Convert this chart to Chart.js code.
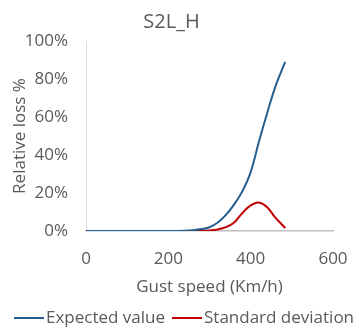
<!DOCTYPE html>
<html>
<head>
<meta charset="utf-8">
<script src="https://cdn.jsdelivr.net/npm/chart.js@4.4.0/dist/chart.umd.min.js"></script>
<style>
html,body{margin:0;padding:0;background:#fff;}
#wrap{width:355px;height:328px;}
</style>
</head>
<body>
<div id="wrap"><canvas id="c" width="355" height="328"></canvas></div>
<script>
const gustSpeed = [0, 100, 200, 240, 260, 280, 300, 320, 340, 360, 380, 400, 420, 440, 460, 480, 484];
const expectedValue = [0, 0, 0, 0.1, 0.4, 1.0, 2.0, 4.5, 8.5, 14, 21, 31, 47, 62, 76, 87, 89];
const standardDeviation = [0, 0, 0, 0, 0, 0.1, 0.3, 0.8, 2.0, 4.5, 9.5, 13.5, 15, 12.5, 7, 2.5, 1.5];
const xTicks = [0, 200, 400, 600];
const yTicks = [0, 20, 40, 60, 80, 100];
const seriesNames = ['Expected value', 'Standard deviation'];
const chartTitle = 'S2L_H';
const xTitle = 'Gust speed (Km/h)';
const yTitle = 'Relative loss %';

const FONT = "'Open Sans', sans-serif";
const TXT = '#595959';
const FS = 17;
const COLORS = ['#255E91', '#C00000'];
Chart.defaults.font.family = FONT;
Chart.defaults.color = TXT;

const toPts = (ys) => gustSpeed.map((x, i) => ({x, y: ys[i]}));

const customLegend = {
  id: 'customLegend',
  afterDraw(chart) {
    const ctx = chart.ctx;
    const y = 318;
    const items = [{x: 14}, {x: 172}];
    ctx.save();
    ctx.font = FS + "px " + FONT;
    ctx.textBaseline = 'middle';
    ctx.textAlign = 'left';
    chart.data.datasets.forEach((ds, i) => {
      const x0 = items[i].x;
      ctx.strokeStyle = ds.borderColor;
      ctx.lineWidth = 2;
      ctx.beginPath();
      ctx.moveTo(x0, y);
      ctx.lineTo(x0 + 30, y);
      ctx.stroke();
      ctx.fillStyle = TXT;
      ctx.fillText(ds.label, x0 + 32, y);
    });
    ctx.restore();
  }
};

new Chart(document.getElementById('c'), {
  type: 'line',
  data: {
    datasets: [
      {label: seriesNames[0], data: toPts(expectedValue), borderColor: COLORS[0], backgroundColor: COLORS[0], borderWidth: 2, pointRadius: 0, tension: 0.4},
      {label: seriesNames[1], data: toPts(standardDeviation), borderColor: COLORS[1], backgroundColor: COLORS[1], borderWidth: 2, pointRadius: 0, tension: 0.4}
    ]
  },
  plugins: [customLegend],
  options: {
    responsive: false,
    animation: false,
    layout: {padding: {left: 10, right: 22, top: 8, bottom: 27}},
    plugins: {
      title: {display: true, text: chartTitle, color: TXT, font: {size: 20, weight: 'normal', family: FONT}, padding: {top: 2, bottom: 7}},
      legend: {display: false},
      tooltip: {enabled: false}
    },
    scales: {
      x: {
        type: 'linear', min: 0, max: 600,
        afterBuildTicks: (s) => { s.ticks = xTicks.map(v => ({value: v})); },
        afterFit: (s) => { s.height = 70; s.paddingLeft = 0; s.paddingRight = 0; },
        grid: {display: false, drawTicks: false},
        border: {display: true, color: '#BFBFBF', width: 1.5},
        ticks: {color: TXT, font: {size: FS}, padding: 18, maxRotation: 0},
        title: {display: true, text: xTitle, color: TXT, font: {size: FS}, padding: {top: 7, bottom: 4}}
      },
      y: {
        min: 0, max: 100,
        afterBuildTicks: (s) => { s.ticks = yTicks.map(v => ({value: v})); },
        afterFit: (s) => { s.width = 76; s.paddingTop = 0; s.paddingBottom = 0; },
        grid: {display: false, drawTicks: false},
        border: {display: true, color: '#D9D9D9', width: 1},
        ticks: {color: TXT, font: {size: FS}, padding: 18, callback: (v) => v + '%'},
        title: {display: true, text: yTitle, color: TXT, font: {size: FS}, padding: {top: 0, bottom: 0}}
      }
    }
  }
});
</script>
</body>
</html>
